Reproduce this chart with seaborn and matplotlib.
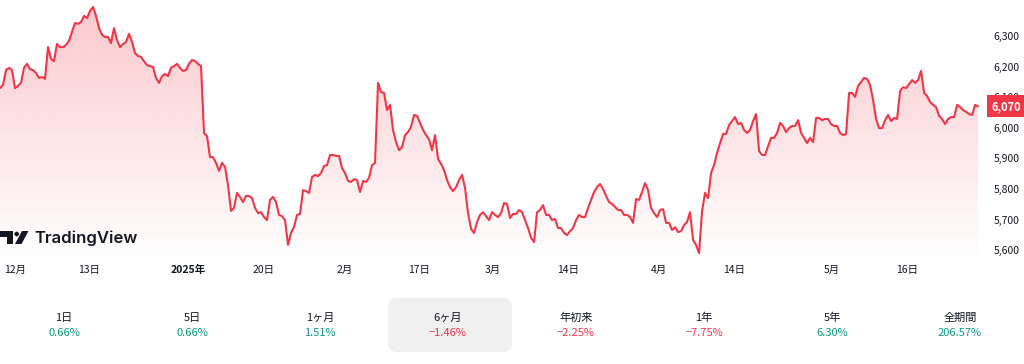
import numpy as np
import pandas as pd
import matplotlib
matplotlib.use("Agg")
import matplotlib.pyplot as plt
import matplotlib.transforms as mtransforms
from matplotlib.patches import Polygon, FancyBboxPatch
import seaborn as sns

# ---------------- data ----------------
prices = [
    6130, 6140, 6189, 6196, 6189, 6130, 6137, 6147, 6196, 6209, 6192, 6189, 6179, 6163, 6166, 6160,
    6264, 6225, 6218, 6274, 6264, 6264, 6271, 6284, 6313, 6343, 6340, 6346, 6366, 6359, 6382, 6395,
    6366, 6326, 6304, 6297, 6297, 6277, 6326, 6287, 6264, 6274, 6281, 6307, 6281, 6245, 6235, 6232,
    6218, 6205, 6202, 6199, 6163, 6147, 6169, 6176, 6169, 6196, 6202, 6209, 6196, 6186, 6189, 6209,
    6222, 6218, 6209, 6202, 5983, 5973, 5904, 5904, 5885, 5859, 5885, 5872, 5813, 5728, 5738, 5787,
    5774, 5757, 5777, 5777, 5770, 5738, 5721, 5724, 5708, 5698, 5764, 5774, 5757, 5715, 5711, 5698,
    5617, 5656, 5675, 5715, 5718, 5796, 5793, 5787, 5839, 5846, 5842, 5852, 5875, 5878, 5911, 5911,
    5908, 5908, 5868, 5852, 5826, 5823, 5832, 5829, 5790, 5826, 5823, 5836, 5878, 5885, 6147, 6117,
    6114, 6058, 6075, 5993, 5953, 5927, 5937, 5976, 5986, 6003, 6042, 6039, 6016, 5993, 5976, 5963,
    5927, 5976, 5898, 5882, 5862, 5829, 5806, 5793, 5806, 5829, 5846, 5803, 5721, 5669, 5656, 5692,
    5715, 5724, 5711, 5698, 5724, 5715, 5708, 5721, 5754, 5751, 5705, 5718, 5718, 5731, 5724, 5698,
    5672, 5640, 5626, 5724, 5731, 5747, 5715, 5715, 5698, 5702, 5672, 5672, 5656, 5649, 5662, 5672,
    5698, 5715, 5708, 5708, 5738, 5764, 5790, 5806, 5816, 5800, 5777, 5757, 5751, 5741, 5731, 5731,
    5715, 5715, 5708, 5689, 5767, 5764, 5790, 5819, 5796, 5738, 5721, 5708, 5731, 5734, 5689, 5689,
    5666, 5675, 5659, 5662, 5682, 5692, 5724, 5633, 5617, 5590, 5728, 5787, 5770, 5852, 5878, 5918,
    5950, 5980, 5980, 6009, 6022, 6035, 6012, 6016, 5993, 5983, 5993, 6022, 6045, 5924, 5911, 5911,
    5940, 5967, 5967, 5983, 6016, 6006, 5986, 5999, 6006, 6006, 6025, 5983, 5967, 5950, 5967, 5953,
    6032, 6032, 6025, 6029, 6029, 6012, 6006, 6006, 5983, 5976, 5980, 6114, 6114, 6101, 6137, 6150,
    6163, 6160, 6140, 6091, 6029, 5999, 5999, 6025, 6042, 6022, 6032, 6029, 6120, 6133, 6130, 6143,
    6156, 6147, 6156, 6186, 6114, 6104, 6084, 6075, 6068, 6039, 6029, 6012, 6029, 6035, 6035, 6075,
    6068, 6058, 6052, 6045, 6042, 6075, 6070,
]
last_label = "6,070"

x_tick_labels = ["12月", "13日", "2025年", "20日", "2月", "17日", "3月", "14日", "4月", "14日", "5月", "16日"]
x_tick_pos = [5, 29.7, 62.7, 87.7, 115, 139.7, 164.3, 189.3, 219.7, 244.7, 277.3, 302.3]
y_ticks = [5600, 5700, 5800, 5900, 6000, 6100, 6200, 6300]

period_labels = ["1日", "5日", "1ヶ月", "6ヶ月", "年初来", "1年", "5年", "全期間"]
period_values = ["0.66%", "0.66%", "1.51%", "−1.46%", "−2.25%", "−7.75%", "6.30%", "206.57%"]
period_positive = [True, True, True, False, False, False, True, True]
selected_period = 3

# ---------------- style ----------------
sns.set_theme(style="white")
plt.rcParams['font.family'] = ['Noto Sans CJK JP', 'DejaVu Sans']

RED = "#f23645"
GREEN = "#089981"
TXT = "#131722"

W, H = 1024, 364
fig = plt.figure(figsize=(W / 100, H / 100), dpi=100)
fig.patch.set_facecolor("white")

def fx(px):
    return px / W

def fy(py):
    return 1 - py / H

ax_bottom_px = 262
ax = fig.add_axes([0, fy(ax_bottom_px), fx(985), ax_bottom_px / H])
ax.set_facecolor("none")

df = pd.DataFrame({"i": np.arange(len(prices)), "price": prices})
ymin, ymax = 5561, 6418
ax.set_xlim(0, 328.3)
ax.set_ylim(ymin, ymax)

# gradient area under the line
poly = ax.fill_between(df["i"], df["price"], ymin, color="none", lw=0)
path = poly.get_paths()[0]
n = 256
alpha = np.linspace(0.27, 0.0, n)
img = np.zeros((n, 1, 4))
img[:, 0, 0] = 242 / 255
img[:, 0, 1] = 54 / 255
img[:, 0, 2] = 69 / 255
img[:, 0, 3] = alpha
im = ax.imshow(img, extent=[0, len(prices) - 1, ymin, max(prices)], aspect="auto",
               origin="upper", zorder=1, interpolation="bilinear")
im.set_clip_path(path, ax.transData)

sns.lineplot(data=df, x="i", y="price", ax=ax, color=RED, lw=1.5, zorder=3)

for s in ax.spines.values():
    s.set_visible(False)
ax.grid(False)
ax.set_xlabel("")
ax.set_ylabel("")

ax.set_xticks(x_tick_pos)
ax.set_xticklabels(x_tick_labels)
ax.tick_params(axis="x", length=0, pad=2, labelsize=7.5, colors=TXT)
for lbl in ax.get_xticklabels():
    if lbl.get_text().endswith("年"):
        lbl.set_fontweight("bold")

ax.yaxis.tick_right()
ax.set_yticks(y_ticks)
ax.set_yticklabels([f"{v:,}" for v in y_ticks])
ax.tick_params(axis="y", length=0, pad=6, labelsize=7.5, colors=TXT)

# last price label (covers part of the 6,100 tick label, as in the original)
trans = mtransforms.blended_transform_factory(ax.transAxes, ax.transData)
ax.annotate(last_label, xy=(1.0, prices[-1]), xycoords=trans, xytext=(4.5, 0),
            textcoords="offset points", ha="left", va="center", fontsize=8,
            fontweight="bold", color="white", zorder=10, annotation_clip=False,
            bbox=dict(boxstyle="square,pad=0.4", fc=RED, ec="none"))

# TradingView logo
def fpts(pts):
    return [(fx(a), fy(b)) for a, b in pts]

fig.patches.append(Polygon(fpts([(0, 231), (13, 231), (13, 244), (6.5, 244), (6.5, 237), (0, 237)]),
                           closed=True, transform=fig.transFigure, fc=TXT, ec="none"))
fig.patches.append(Polygon(fpts([(22, 231), (28.5, 231), (21.5, 244), (15, 244)]),
                           closed=True, transform=fig.transFigure, fc=TXT, ec="none"))
fig.patches.append(FancyBboxPatch((fx(14.2), fy(236.5)), fx(5), 5 / H, boxstyle="round,pad=0,rounding_size=0.003",
                                  transform=fig.transFigure, fc=TXT, ec="none", mutation_aspect=W / H))
fig.text(fx(34), fy(238), "TradingView", fontsize=12, fontweight="semibold", color=TXT,
         family=["Inter", "DejaVu Sans"], ha="left", va="center")

# period selector
fig.patches.append(FancyBboxPatch((fx(388), fy(352)), fx(124), 54 / H,
                                  boxstyle="round,pad=0,rounding_size=0.009",
                                  mutation_aspect=W / H,
                                  transform=fig.transFigure, fc="#f0f0f0", ec="none", zorder=0))
for k, (lab, val, pos) in enumerate(zip(period_labels, period_values, period_positive)):
    cx = fx(64 + 128 * k)
    fig.text(cx, fy(318), lab, ha="center", va="center", fontsize=8, color=TXT)
    fig.text(cx, fy(333), val, ha="center", va="center", fontsize=8,
             color=GREEN if pos else RED)

fig.savefig("out.png", dpi=100, facecolor="white")
